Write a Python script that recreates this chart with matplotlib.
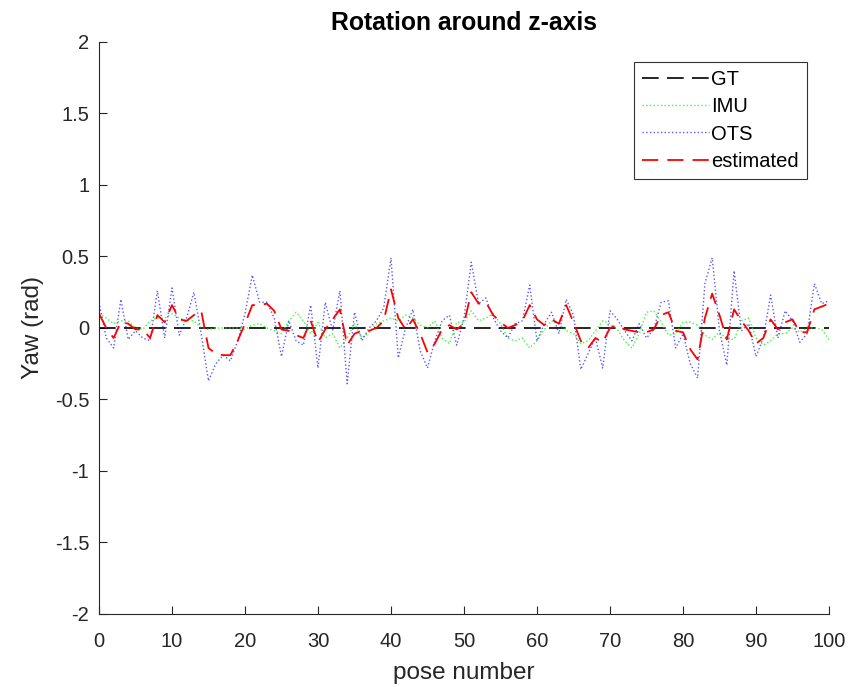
import matplotlib
matplotlib.use("Agg")
import matplotlib.pyplot as plt

plt.rcParams['font.family'] = ['Liberation Sans', 'DejaVu Sans']

# pose numbers 0..100
pose = list(range(0, 101))

gt = [0.0] * 101

imu = [0.10, 0.07, 0.03, 0.05, 0.05, 0.00, -0.01, 0.05, 0.07, 0.07,
       0.10, 0.07, 0.05, 0.05, 0.00, -0.01, 0.00, 0.00, 0.00, 0.00,
       -0.01, 0.02, 0.03, 0.00, -0.02, -0.04, 0.05, 0.11, 0.05, -0.04,
       0.04, -0.07, -0.04, -0.14, -0.07, 0.03, -0.07, -0.03, 0.03, 0.05,
       0.07, 0.05, 0.09, 0.07, 0.02, 0.00, 0.05, -0.07, -0.11, 0.04,
       0.04, 0.12, 0.05, 0.07, 0.10, 0.03, -0.07, -0.09, -0.07, -0.14,
       -0.09, -0.01, 0.05, 0.03, -0.02, -0.04, -0.11, -0.09, -0.02, 0.05,
       0.03, -0.01, -0.09, -0.14, -0.04, 0.11, 0.12, 0.04, -0.05, -0.04,
       0.04, 0.04, 0.02, -0.05, -0.08, -0.03, -0.08, -0.08, 0.05, 0.07,
       -0.07, -0.12, -0.09, -0.04, -0.04, 0.00, -0.03, 0.00, 0.00, -0.01,
       -0.08]

ots = [0.18, -0.07, -0.14, 0.20, -0.08, -0.02, -0.07, -0.09, 0.26, -0.07,
       0.28, -0.05, 0.07, 0.25, -0.04, -0.37, -0.25, -0.19, -0.23, -0.09,
       0.10, 0.37, 0.18, 0.18, 0.07, -0.20, 0.05, -0.09, -0.12, 0.16,
       -0.28, 0.18, -0.02, 0.26, -0.39, 0.11, -0.09, 0.00, 0.05, 0.14,
       0.49, -0.21, 0.00, 0.13, -0.16, -0.28, -0.09, 0.05, 0.09, -0.12,
       0.07, 0.46, 0.17, 0.21, 0.07, -0.02, -0.07, 0.03, 0.05, 0.30,
       -0.09, 0.03, 0.11, -0.04, 0.20, 0.09, -0.29, -0.18, -0.07, -0.28,
       0.12, 0.06, -0.02, -0.09, 0.03, -0.07, -0.01, 0.18, 0.19, -0.14,
       -0.04, -0.25, -0.35, 0.31, 0.49, -0.02, -0.26, 0.40, -0.02, 0.03,
       -0.20, -0.07, 0.23, -0.07, 0.12, 0.05, -0.10, -0.04, 0.31, 0.17,
       0.19]

est = [0.10, 0.00, -0.07, 0.04, 0.03, -0.01, -0.01, -0.07, 0.09, 0.04,
       0.16, 0.06, 0.05, 0.09, 0.12, -0.14, -0.18, -0.19, -0.19, -0.09,
       0.03, 0.16, 0.16, 0.17, 0.12, -0.01, -0.02, -0.05, -0.07, 0.05,
       -0.10, -0.01, 0.06, 0.13, -0.12, -0.04, -0.02, -0.02, 0.00, 0.05,
       0.27, 0.07, -0.01, 0.06, -0.04, -0.17, -0.11, -0.01, 0.02, -0.01,
       0.03, 0.25, 0.17, 0.18, 0.09, 0.04, 0.00, 0.02, 0.05, 0.16,
       0.06, 0.02, 0.06, 0.03, 0.16, 0.04, -0.09, -0.14, -0.07, -0.10,
       0.00, 0.02, -0.01, -0.02, -0.03, -0.03, -0.01, 0.09, 0.11, -0.02,
       -0.03, -0.15, -0.22, 0.07, 0.24, 0.09, -0.08, 0.13, 0.05, -0.02,
       -0.11, -0.07, 0.06, -0.01, 0.04, 0.06, -0.03, -0.03, 0.13, 0.15,
       0.17]

fig = plt.figure(figsize=(8.63, 6.87), dpi=100)
ax = fig.add_axes([0.1147, 0.1063, 0.8459, 0.8326])

ax.plot(pose, gt, color="black", linestyle=(0, (10, 5)), lw=1.2, label="GT")
ax.plot(pose, imu, color="#00ff00", linestyle=":", lw=1.0, alpha=0.8, label="IMU")
ax.plot(pose, ots, color="#0000ff", linestyle=":", lw=1.0, alpha=0.65, label="OTS")
ax.plot(pose, est, color="red", linestyle=(0, (9, 5)), lw=1.3, label="estimated")

ax.set_xlim(0, 100)
ax.set_ylim(-2, 2)
ax.set_xticks(range(0, 101, 10))
ax.set_yticks([-2, -1.5, -1, -0.5, 0, 0.5, 1, 1.5, 2])
ax.set_yticklabels(["-2", "-1.5", "-1", "-0.5", "0", "0.5", "1", "1.5", "2"])

# matlab-ish look: box off, ticks inside
ax.spines["top"].set_visible(False)
ax.spines["right"].set_visible(False)
ax.tick_params(direction="in", length=6, labelsize=14.5, colors="#262626")
ax.tick_params(axis="y", pad=7)
ax.tick_params(axis="x", pad=13)
for s in ["left", "bottom"]:
    ax.spines[s].set_color("#262626")

ax.set_xlabel("pose number", fontsize=17.5, color="#262626", labelpad=8)
ax.set_ylabel("Yaw (rad)", fontsize=17.5, color="#262626", labelpad=8)
ax.set_title("Rotation around z-axis", fontsize=17.8, fontweight="bold", pad=8.6)

leg = ax.legend(loc="upper right", bbox_to_anchor=(0.9351, 0.9098),
                bbox_transform=fig.transFigure, borderaxespad=0,
                fontsize=14.5, frameon=True, fancybox=False, edgecolor="black",
                handlelength=3.3, handletextpad=0.1, borderpad=0.42,
                labelspacing=0.4)
leg.get_frame().set_linewidth(0.8)

fig.savefig("out.png", dpi=100)
